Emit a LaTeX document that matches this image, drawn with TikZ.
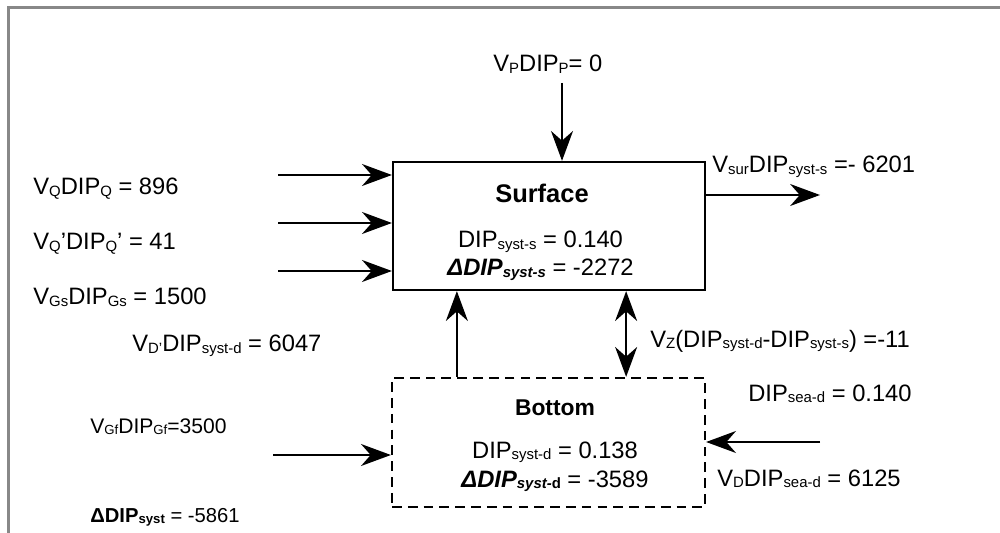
\documentclass[tikz,border=0pt]{standalone}
\usepackage{fontspec}
\setmainfont{Liberation Sans}
\usetikzlibrary{arrows.meta}
\definecolor{framegray}{HTML}{888888}
\newcommand{\lo}[2][8.5]{\raisebox{-0.9pt}{\fontsize{#1}{#1}\selectfont #2}}
\tikzset{
  frameline/.style={draw=framegray, line width=1.8pt},
  surfbox/.style={
    rectangle, draw=black, line width=1.3pt, inner sep=0pt,
    minimum width=6.24cm, minimum height=2.56cm
  },
  bottbox/.style={surfbox, dash pattern=on 5.5pt off 3.5pt,
    minimum width=6.26cm, minimum height=2.58cm},
  boxtitle/.style={font=\fontsize{14.5}{17}\selectfont\bfseries, inner sep=0pt, anchor=base},
  stat/.style={font=\fontsize{13.5}{16}\selectfont, inner sep=0pt, anchor=base},
  flux/.style={font=\fontsize{13.5}{16}\selectfont, inner sep=0pt, anchor=base west},
  flow/.style={-{Stealth[length=17pt,width=12.5pt,inset=5.5pt]}, line width=1.2pt},
  twoway/.style={{Stealth[length=17pt,width=12.5pt,inset=5.5pt]}-{Stealth[length=17pt,width=12.5pt,inset=5.5pt]}, line width=1.2pt},
}

\begin{document}
\begin{tikzpicture}[x=0.02cm, y=-0.02cm]
  \useasboundingbox (0,0) rectangle (1000,533);
  \draw[frameline] (8.5,533) -- (8.5,7.5) -- (1000,7.5);

  \node[surfbox] (surf) at (549,226) {};
  \node[boxtitle] (surftitle) at (542,203) {Surface};
  \node[stat] (surfdip) at (540.5,248) {DIP\lo{syst-s} = 0.140};
  \node[stat] (surfdelta) at (540.5,276) {{\bfseries\itshape ΔDIP\lo{syst-s}} = -2272};

  \node[bottbox] (bott) at (548.5,442.5) {};
  \node[boxtitle, font=\fontsize{13}{15}\selectfont\bfseries] (botttitle) at (555,415) {Bottom};
  \node[stat] (bottdip) at (555,458) {DIP\lo{syst-d} = 0.138};
  \node[stat] (bottdelta) at (555,487) {{\bfseries\itshape ΔDIP\lo{syst-{\upshape d}}} = -3589};

  \node[flux] (lblP) at (493,72) {V\lo{P}DIP\lo{P}= 0};
  \node[flux] (lblQ) at (33,195) {V\lo{Q}DIP\lo{Q} = 896};
  \node[flux] (lblQq) at (33,250) {V\lo{Q}’DIP\lo{Q}’ = 41};
  \node[flux] (lblGs) at (33,305) {V\lo{Gs}DIP\lo{Gs} = 1500};
  \node[flux] (lblDp) at (132,352) {V\lo{D’}DIP\lo{syst-d} = 6047};
  \node[flux, font=\fontsize{12}{14}\selectfont] (lblGf) at (90,433) {V\lo[7.5]{Gf}DIP\lo[7.5]{Gf}=3500};
  \node[flux, font=\fontsize{11.5}{14}\selectfont] (lblsyst) at (90,522) {{\bfseries ΔDIP\lo[7.5]{syst}} = -5861};
  \node[flux] (lblsur) at (712,173) {V\lo{sur}DIP\lo{syst-s} =- 6201};
  \node[flux] (lblZ) at (650,347) {V\lo{Z}(DIP\lo{syst-d}-DIP\lo{syst-s}) =-11};
  \node[flux] (lblsea) at (748,401) {DIP\lo{sea-d} = 0.140};
  \node[flux] (lblD) at (717,486) {V\lo{D}DIP\lo{sea-d} = 6125};

  \coordinate (inP) at (562,83);
  \coordinate (inQ) at (278,175);
  \coordinate (inQq) at (278,223);
  \coordinate (inGs) at (278,271);
  \coordinate (outSur) at (820,195);
  \coordinate (inGf) at (273,455);
  \coordinate (inD) at (820,442);

  \draw[flow] (inP) -- (inP |- surf.north);
  \draw[flow] (inQ) -- (inQ -| surf.west);
  \draw[flow] (inQq) -- (inQq -| surf.west);
  \draw[flow] (inGs) -- (inGs -| surf.west);
  \draw[flow] (surf.east |- outSur) -- (outSur);
  \draw[flow] ([xshift=1.32cm]bott.north west) -- ([xshift=1.32cm]bott.north west |- surf.south);
  \draw[twoway] ([xshift=-1.6cm]surf.south east) -- ([xshift=-1.6cm]surf.south east |- bott.north);
  \draw[flow] (inGf) -- (inGf -| bott.west);
  \draw[flow] (inD) -- (inD -| bott.east);
\end{tikzpicture}
\end{document}
